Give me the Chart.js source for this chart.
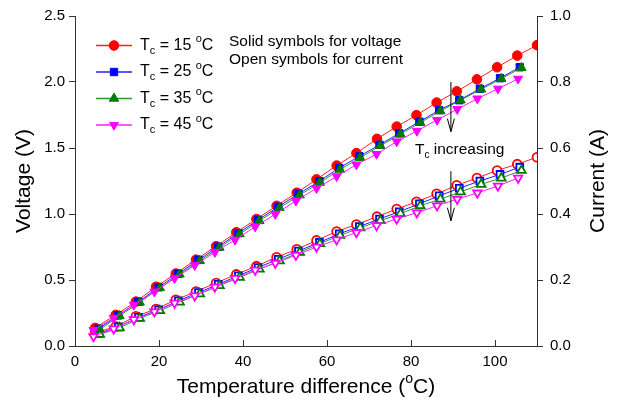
<!DOCTYPE html>
<html>
<head>
<meta charset="utf-8">
<script src="https://cdn.jsdelivr.net/npm/chart.js@4.4.1/dist/chart.umd.min.js"></script>
<style>
  html, body { margin: 0; padding: 0; background: #fff; }
</style>
</head>
<body>
<canvas id="chart" width="618" height="412"></canvas>
<script>
// cold-side temperatures
const tcValues = ["15", "25", "35", "45"];

// temperature difference (x) per series
const xT15 = [4.8, 9.7, 14.5, 19.3, 24.0, 28.8, 33.6, 38.4, 43.2, 48.0, 52.8, 57.5, 62.3, 67.0, 71.9, 76.6, 81.3, 86.1, 90.9, 95.7, 100.5, 105.3, 110.0];
const xT25 = [5.6, 10.3, 15.1, 19.9, 24.6, 29.4, 34.1, 38.9, 43.6, 48.4, 53.2, 58.2, 62.9, 67.7, 72.5, 77.2, 82.0, 86.7, 91.5, 96.4, 101.2, 105.9];
const xT35 = [5.9, 10.6, 15.4, 20.2, 24.9, 29.7, 34.4, 39.2, 43.9, 48.7, 53.5, 58.3, 63.1, 67.9, 72.7, 77.5, 82.2, 87.0, 91.8, 96.7, 101.5, 106.3];
const xT45 = [4.4, 9.2, 14.0, 18.9, 23.7, 28.5, 33.3, 38.1, 42.9, 47.7, 52.6, 57.5, 62.3, 67.0, 71.8, 76.6, 81.4, 86.2, 91.0, 95.8, 100.7, 105.5];

// voltage (V)
const vT15 = [0.137, 0.236, 0.336, 0.449, 0.549, 0.654, 0.756, 0.861, 0.962, 1.062, 1.161, 1.262, 1.367, 1.461, 1.569, 1.662, 1.749, 1.844, 1.929, 2.020, 2.112, 2.200, 2.279];
const vT25 = [0.130, 0.232, 0.335, 0.445, 0.548, 0.652, 0.752, 0.855, 0.955, 1.055, 1.152, 1.249, 1.349, 1.437, 1.524, 1.611, 1.699, 1.787, 1.862, 1.949, 2.029, 2.112];
const vT35 = [0.125, 0.228, 0.330, 0.440, 0.543, 0.646, 0.746, 0.849, 0.948, 1.047, 1.143, 1.238, 1.337, 1.426, 1.517, 1.605, 1.692, 1.780, 1.862, 1.945, 2.025, 2.108];
const vT45 = [0.120, 0.212, 0.311, 0.411, 0.512, 0.611, 0.711, 0.804, 0.904, 0.999, 1.100, 1.195, 1.285, 1.374, 1.454, 1.549, 1.629, 1.712, 1.794, 1.874, 1.949, 2.024];

// current (A)
const iT15 = [0.040, 0.059, 0.090, 0.112, 0.140, 0.165, 0.191, 0.217, 0.242, 0.269, 0.293, 0.320, 0.347, 0.368, 0.392, 0.415, 0.437, 0.461, 0.487, 0.509, 0.532, 0.551, 0.572];
const iT25 = [0.038, 0.058, 0.087, 0.110, 0.137, 0.162, 0.187, 0.213, 0.238, 0.263, 0.288, 0.314, 0.340, 0.362, 0.385, 0.407, 0.431, 0.455, 0.478, 0.500, 0.520, 0.542];
const iT35 = [0.035, 0.055, 0.084, 0.107, 0.133, 0.158, 0.183, 0.208, 0.233, 0.258, 0.284, 0.310, 0.335, 0.358, 0.380, 0.401, 0.425, 0.445, 0.467, 0.490, 0.509, 0.532];
const iT45 = [0.029, 0.052, 0.080, 0.104, 0.130, 0.152, 0.179, 0.205, 0.230, 0.251, 0.275, 0.300, 0.322, 0.344, 0.365, 0.385, 0.404, 0.425, 0.445, 0.464, 0.485, 0.509];

const FONT = "'Liberation Sans', Arial, sans-serif";

const series = [
  { x: xT15, v: vT15, i: iT15, color: "#ff0000", line: "#ff2020", style: "circle", r: 4.8, rot: 0 },
  { x: xT25, v: vT25, i: iT25, color: "#0000ff", line: "#2020ff", style: "rect", r: 5.2, rot: 0 },
  { x: xT35, v: vT35, i: iT35, color: "#007a00", line: "#2e962e", style: "triangle", r: 5.4, rot: 0 },
  { x: xT45, v: vT45, i: iT45, color: "#ff00ff", line: "#ff20ff", style: "triangle", r: 5.2, rot: 180 }
];

const pts = (xs, ys) => xs.map((x, k) => ({ x: x, y: ys[k] }));

const datasets = [];
series.forEach((s, k) => {
  datasets.push({
    label: "V " + tcValues[k],
    data: pts(s.x, s.v),
    yAxisID: "yV",
    borderColor: s.line,
    borderWidth: 1,
    pointStyle: s.style,
    pointRotation: s.rot,
    pointRadius: s.r,
    pointBackgroundColor: s.color,
    pointBorderColor: s.color,
    pointBorderWidth: 1,
    order: 3 - k
  });
  datasets.push({
    label: "I " + tcValues[k],
    data: pts(s.x, s.i),
    yAxisID: "yI",
    borderColor: s.line,
    borderWidth: 1,
    pointStyle: s.style,
    pointRotation: s.rot,
    pointRadius: s.r - 0.4,
    pointBackgroundColor: "#ffffff",
    pointBorderColor: s.color,
    pointBorderWidth: 1.8,
    order: 3 - k
  });
});

// draw text with sub/superscript pieces
function richWidth(ctx, parts, size) {
  let w = 0;
  parts.forEach(([t, kind]) => {
    ctx.font = (kind === "n" ? size : Math.round(size * 0.66)) + "px " + FONT;
    w += ctx.measureText(t).width;
  });
  return w;
}
function drawRich(ctx, parts, x, y, size) {
  let cx = x;
  parts.forEach(([t, kind]) => {
    const fs = kind === "n" ? size : Math.round(size * 0.66);
    ctx.font = fs + "px " + FONT;
    const dy = kind === "sub" ? size * 0.32 : kind === "sup" ? -size * 0.38 : 0;
    ctx.fillText(t, cx, y + dy);
    cx += ctx.measureText(t).width;
  });
}

function arrowDown(ctx, x, y1, y2) {
  ctx.beginPath();
  ctx.moveTo(x, y1);
  ctx.lineTo(x, y2);
  ctx.moveTo(x - 3.5, y2 - 13);
  ctx.lineTo(x, y2);
  ctx.lineTo(x + 3.5, y2 - 13);
  ctx.stroke();
}

const decor = {
  id: "decor",
  afterDraw(chart) {
    const ctx = chart.ctx;
    const area = chart.chartArea;
    const sx = chart.scales.x, sv = chart.scales.yV;
    ctx.save();
    ctx.lineWidth = 1;

    // inward x ticks
    ctx.strokeStyle = "#333";
    sx.ticks.forEach(t => {
      const px = Math.round(sx.getPixelForValue(t.value)) + 0.5;
      ctx.beginPath();
      ctx.moveTo(px, area.bottom);
      ctx.lineTo(px, area.bottom - 6);
      ctx.stroke();
    });

    // axis titles
    ctx.fillStyle = "#000";
    ctx.textBaseline = "middle";
    ctx.textAlign = "left";
    const tsz = 21;
    const xt = [["Temperature difference (", "n"], ["o", "sup"], ["C)", "n"]];
    const xw = richWidth(ctx, xt, tsz);
    drawRich(ctx, xt, (area.left + area.right) / 2 - xw / 2, 387, tsz);

    ctx.save();
    ctx.translate(24, (area.top + area.bottom) / 2);
    ctx.rotate(-Math.PI / 2);
    ctx.font = tsz + "px " + FONT;
    ctx.textAlign = "center";
    ctx.fillText("Voltage (V)", 0, 0);
    ctx.restore();

    ctx.save();
    ctx.translate(598, (area.top + area.bottom) / 2);
    ctx.rotate(-Math.PI / 2);
    ctx.font = tsz + "px " + FONT;
    ctx.textAlign = "center";
    ctx.fillText("Current (A)", 0, 0);
    ctx.restore();

    // legend
    const lsz = 16;
    const rows = [45.5, 72, 98.5, 125];
    series.forEach((s, k) => {
      const y = rows[k];
      ctx.strokeStyle = s.line;
      ctx.lineWidth = 1.5;
      ctx.beginPath();
      ctx.moveTo(96, y);
      ctx.lineTo(132, y);
      ctx.stroke();
      ctx.fillStyle = s.color;
      ctx.strokeStyle = s.color;
      ctx.lineWidth = 1;
      Chart.helpers.drawPoint(ctx, { pointStyle: s.style, radius: s.r, rotation: s.rot, borderWidth: 1 }, 114, y);
      ctx.fillStyle = "#000";
      ctx.textAlign = "left";
      drawRich(ctx, [["T", "n"], ["c", "sub"], [" = " + tcValues[k] + " ", "n"], ["o", "sup"], ["C", "n"]], 140, y, lsz);
    });

    // notes
    ctx.font = "15.5px " + FONT;
    ctx.fillText("Solid symbols for voltage", 229, 42);
    ctx.fillText("Open symbols for current", 229, 60);

    // Tc increasing with arrows
    const ax = sx.getPixelForValue(89.5);
    ctx.strokeStyle = "#000";
    ctx.lineWidth = 1;
    arrowDown(ctx, ax, sv.getPixelForValue(2.0), sv.getPixelForValue(1.624));
    arrowDown(ctx, ax, sv.getPixelForValue(1.324), sv.getPixelForValue(0.949));
    drawRich(ctx, [["T", "n"], ["c", "sub"], [" increasing", "n"]], 415, 150, 15.5);

    ctx.restore();
  }
};

const tickFont = { family: FONT, size: 15 };

new Chart(document.getElementById("chart").getContext("2d"), {
  type: "line",
  data: { datasets: datasets },
  options: {
    responsive: false,
    animation: false,
    layout: { padding: { top: 13, left: 0, right: 0, bottom: 0 } },
    plugins: { legend: { display: false }, tooltip: { enabled: false } },
    elements: { line: { tension: 0 } },
    scales: {
      x: {
        type: "linear",
        min: 0,
        max: 110,
        ticks: { stepSize: 20, includeBounds: false, padding: 7, color: "#000", font: tickFont, maxRotation: 0 },
        grid: { drawOnChartArea: false, drawTicks: false },
        border: { color: "#333", width: 1 },
        afterFit(s) { s.height = 66; }
      },
      yV: {
        type: "linear",
        position: "left",
        min: 0,
        max: 2.5,
        ticks: { stepSize: 0.5, padding: 4, color: "#000", font: tickFont, callback: v => v.toFixed(1) },
        grid: { drawOnChartArea: false, tickLength: 6, color: "#333" },
        border: { color: "#333", width: 1 },
        afterFit(s) { s.width = 75; }
      },
      yI: {
        type: "linear",
        position: "right",
        min: 0,
        max: 1.0,
        ticks: { stepSize: 0.2, padding: 7, color: "#000", font: tickFont, callback: v => v.toFixed(1) },
        grid: { drawOnChartArea: false, tickLength: 6, color: "#333" },
        border: { color: "#333", width: 1 },
        afterFit(s) { s.width = 81; }
      }
    }
  },
  plugins: [decor]
});
</script>
</body>
</html>
